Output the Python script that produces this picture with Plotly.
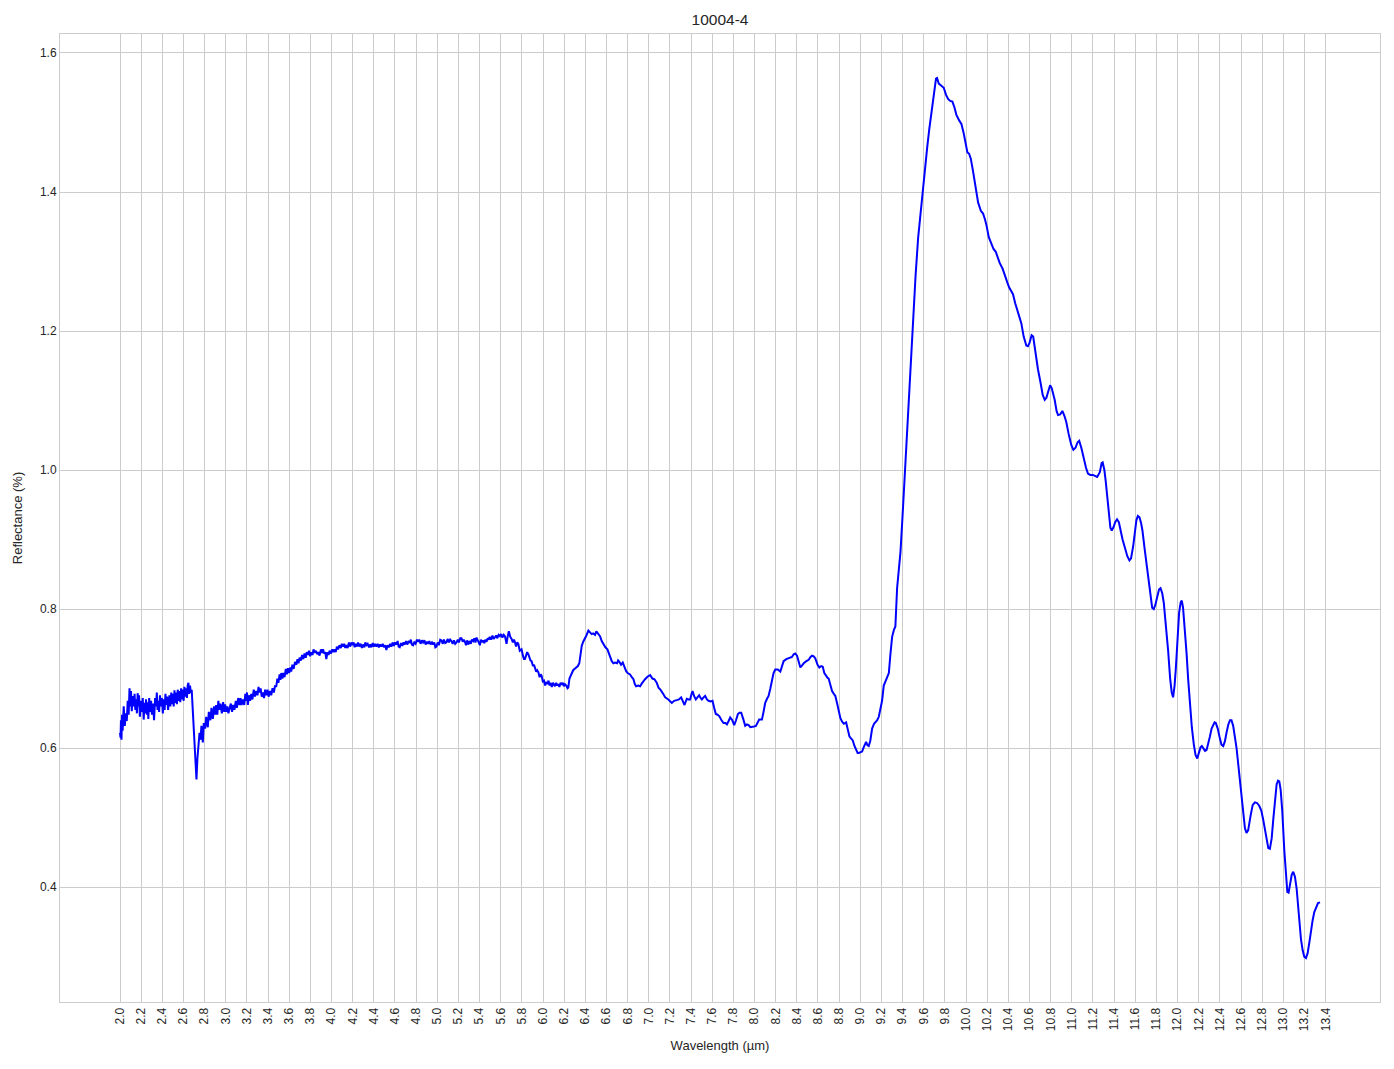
import plotly.graph_objects as go

TITLE = "10004-4"
X_LABEL = "Wavelength (µm)"
Y_LABEL = "Reflectance (%)"

x_tick_labels = ["2.0", "2.2", "2.4", "2.6", "2.8", "3.0", "3.2", "3.4", "3.6", "3.8",
                 "4.0", "4.2", "4.4", "4.6", "4.8", "5.0", "5.2", "5.4", "5.6", "5.8",
                 "6.0", "6.2", "6.4", "6.6", "6.8", "7.0", "7.2", "7.4", "7.6", "7.8",
                 "8.0", "8.2", "8.4", "8.6", "8.8", "9.0", "9.2", "9.4", "9.6", "9.8",
                 "10.0", "10.2", "10.4", "10.6", "10.8", "11.0", "11.2", "11.4", "11.6", "11.8",
                 "12.0", "12.2", "12.4", "12.6", "12.8", "13.0", "13.2", "13.4"]
y_tick_labels = ["0.4", "0.6", "0.8", "1.0", "1.2", "1.4", "1.6"]

# (wavelength, reflectance)
spectrum = [
    (2.000, 0.622), (2.005, 0.615), (2.009, 0.640), (2.014, 0.612), (2.019, 0.648), (2.025, 0.625),
    (2.035, 0.660), (2.045, 0.632), (2.057, 0.650), (2.064, 0.639), (2.073, 0.668), (2.082, 0.648),
    (2.090, 0.686), (2.098, 0.660), (2.104, 0.682), (2.111, 0.653), (2.120, 0.675), (2.130, 0.660),
    (2.138, 0.678), (2.145, 0.655), (2.152, 0.670), (2.160, 0.650), (2.167, 0.679), (2.173, 0.660),
    (2.180, 0.676), (2.188, 0.645), (2.199, 0.668), (2.208, 0.652), (2.215, 0.672), (2.224, 0.641),
    (2.232, 0.665), (2.240, 0.650), (2.246, 0.670), (2.255, 0.648), (2.262, 0.666), (2.268, 0.642),
    (2.276, 0.672), (2.285, 0.652), (2.294, 0.668), (2.302, 0.648), (2.313, 0.664), (2.322, 0.640),
    (2.332, 0.672), (2.341, 0.660), (2.348, 0.680), (2.355, 0.655), (2.362, 0.668), (2.370, 0.652),
    (2.378, 0.676), (2.388, 0.660), (2.396, 0.672), (2.405, 0.650), (2.414, 0.670), (2.422, 0.655),
    (2.430, 0.678), (2.436, 0.662), (2.445, 0.674), (2.455, 0.655), (2.467, 0.676), (2.476, 0.660),
    (2.485, 0.680), (2.492, 0.663), (2.499, 0.678), (2.508, 0.660), (2.515, 0.683), (2.521, 0.665),
    (2.530, 0.680), (2.538, 0.663), (2.546, 0.684), (2.555, 0.668), (2.563, 0.682), (2.570, 0.666),
    (2.578, 0.686), (2.586, 0.670), (2.595, 0.684), (2.602, 0.668), (2.609, 0.688), (2.617, 0.674),
    (2.625, 0.686), (2.633, 0.672), (2.640, 0.690), (2.647, 0.694), (2.655, 0.678), (2.662, 0.690),
    (2.670, 0.680), (2.678, 0.684), (2.688, 0.655), (2.704, 0.614), (2.715, 0.580), (2.723, 0.555),
    (2.732, 0.585), (2.742, 0.602), (2.752, 0.622), (2.761, 0.612), (2.770, 0.632), (2.783, 0.608),
    (2.792, 0.636), (2.805, 0.628), (2.815, 0.645), (2.830, 0.630), (2.840, 0.652), (2.855, 0.640),
    (2.865, 0.658), (2.878, 0.642), (2.890, 0.660), (2.900, 0.648), (2.909, 0.662), (2.920, 0.648),
    (2.930, 0.668), (2.940, 0.655), (2.950, 0.664), (2.963, 0.650), (2.975, 0.666), (2.985, 0.652),
    (2.994, 0.663),
    (3.005, 0.652), (3.015, 0.660), (3.025, 0.650), (3.035, 0.656), (3.048, 0.664), (3.060, 0.652),
    (3.070, 0.662), (3.082, 0.655), (3.095, 0.668), (3.105, 0.658), (3.118, 0.672), (3.130, 0.662),
    (3.140, 0.672), (3.150, 0.662), (3.162, 0.670), (3.175, 0.662), (3.185, 0.678), (3.193, 0.668),
    (3.201, 0.680), (3.209, 0.662), (3.220, 0.676), (3.230, 0.668), (3.241, 0.678), (3.252, 0.670),
    (3.265, 0.684), (3.276, 0.674), (3.288, 0.682), (3.300, 0.676), (3.310, 0.688), (3.320, 0.680),
    (3.330, 0.686), (3.340, 0.674), (3.351, 0.680), (3.362, 0.672), (3.372, 0.684), (3.383, 0.676),
    (3.395, 0.684), (3.405, 0.674), (3.418, 0.682), (3.430, 0.676), (3.442, 0.686), (3.455, 0.680),
    (3.466, 0.690), (3.477, 0.688), (3.488, 0.700), (3.498, 0.694), (3.509, 0.706), (3.517, 0.698),
    (3.525, 0.708), (3.535, 0.700), (3.545, 0.708), (3.556, 0.702), (3.568, 0.714), (3.578, 0.706),
    (3.588, 0.715), (3.600, 0.708), (3.610, 0.716), (3.619, 0.710), (3.630, 0.720), (3.642, 0.714),
    (3.655, 0.724), (3.667, 0.720), (3.678, 0.728), (3.688, 0.722), (3.698, 0.730), (3.710, 0.726),
    (3.722, 0.734), (3.733, 0.728), (3.745, 0.736), (3.756, 0.730), (3.766, 0.738), (3.777, 0.734),
    (3.788, 0.740), (3.798, 0.732), (3.809, 0.738), (3.820, 0.734), (3.830, 0.742), (3.840, 0.737),
    (3.852, 0.740), (3.865, 0.735), (3.876, 0.738), (3.887, 0.733), (3.900, 0.742), (3.910, 0.737),
    (3.920, 0.742), (3.930, 0.736), (3.941, 0.738), (3.951, 0.728), (3.962, 0.738), (3.972, 0.734),
    (3.982, 0.740), (3.995, 0.736), (4.008, 0.742), (4.018, 0.738), (4.029, 0.742), (4.040, 0.738),
    (4.051, 0.746), (4.062, 0.742), (4.075, 0.748), (4.088, 0.744), (4.098, 0.750), (4.109, 0.746),
    (4.120, 0.750), (4.130, 0.744), (4.140, 0.748), (4.152, 0.744), (4.165, 0.752), (4.176, 0.746),
    (4.188, 0.752), (4.198, 0.748), (4.209, 0.752), (4.219, 0.745), (4.230, 0.750), (4.240, 0.746),
    (4.251, 0.752), (4.262, 0.746), (4.275, 0.750), (4.287, 0.744), (4.298, 0.749), (4.310, 0.745),
    (4.320, 0.752), (4.330, 0.748), (4.342, 0.750), (4.355, 0.745), (4.366, 0.749), (4.377, 0.745),
    (4.390, 0.751), (4.400, 0.746), (4.412, 0.750), (4.424, 0.746), (4.436, 0.750), (4.448, 0.745),
    (4.460, 0.749), (4.472, 0.746), (4.484, 0.750), (4.495, 0.745), (4.508, 0.748), (4.519, 0.741),
    (4.530, 0.748), (4.542, 0.745), (4.555, 0.750), (4.566, 0.746), (4.578, 0.752), (4.590, 0.747),
    (4.602, 0.752),
    (4.614, 0.749), (4.625, 0.754), (4.635, 0.746), (4.645, 0.745), (4.658, 0.751), (4.670, 0.747),
    (4.681, 0.752), (4.692, 0.749), (4.705, 0.754), (4.716, 0.749), (4.728, 0.753), (4.740, 0.752),
    (4.750, 0.756), (4.760, 0.749), (4.771, 0.748), (4.783, 0.752), (4.795, 0.750), (4.808, 0.756),
    (4.819, 0.753), (4.830, 0.756), (4.842, 0.750), (4.855, 0.755), (4.866, 0.752), (4.878, 0.755),
    (4.890, 0.749), (4.902, 0.753), (4.914, 0.750), (4.925, 0.754), (4.937, 0.749), (4.950, 0.752),
    (4.961, 0.749), (4.972, 0.752), (4.982, 0.745), (4.992, 0.746), (5.004, 0.752), (5.015, 0.748),
    (5.028, 0.756), (5.040, 0.755), (5.052, 0.750), (5.063, 0.756), (5.075, 0.751), (5.087, 0.752),
    (5.099, 0.757), (5.110, 0.752), (5.122, 0.756), (5.134, 0.754), (5.146, 0.750), (5.158, 0.755),
    (5.170, 0.750), (5.182, 0.752), (5.194, 0.756), (5.205, 0.752), (5.217, 0.758), (5.229, 0.758),
    (5.241, 0.753), (5.251, 0.756), (5.261, 0.753), (5.272, 0.748), (5.282, 0.755), (5.292, 0.749),
    (5.305, 0.754), (5.317, 0.750), (5.328, 0.756), (5.340, 0.754), (5.350, 0.758), (5.361, 0.752),
    (5.371, 0.759), (5.382, 0.754), (5.392, 0.752), (5.403, 0.748), (5.413, 0.756), (5.424, 0.752),
    (5.434, 0.755), (5.445, 0.751), (5.456, 0.756), (5.466, 0.753), (5.477, 0.758), (5.488, 0.756),
    (5.497, 0.760), (5.510, 0.756), (5.522, 0.762), (5.534, 0.757), (5.545, 0.759), (5.557, 0.762),
    (5.568, 0.758), (5.580, 0.763), (5.592, 0.761), (5.604, 0.764), (5.616, 0.759), (5.628, 0.763),
    (5.640, 0.761), (5.648, 0.756), (5.655, 0.750), (5.665, 0.760), (5.677, 0.768), (5.690, 0.760),
    (5.703, 0.757), (5.715, 0.752), (5.725, 0.756), (5.734, 0.753), (5.745, 0.746), (5.755, 0.752),
    (5.766, 0.750), (5.780, 0.740), (5.797, 0.742), (5.810, 0.733), (5.820, 0.728), (5.829, 0.728),
    (5.840, 0.734), (5.850, 0.738), (5.861, 0.735), (5.872, 0.728), (5.882, 0.726), (5.892, 0.725),
    (5.905, 0.718), (5.915, 0.720), (5.923, 0.716), (5.935, 0.710), (5.945, 0.712), (5.956, 0.709),
    (5.968, 0.702), (5.978, 0.706), (5.987, 0.704), (5.998, 0.696), (6.009, 0.697), (6.020, 0.690),
    (6.030, 0.695), (6.041, 0.692), (6.052, 0.697), (6.062, 0.690), (6.072, 0.694), (6.083, 0.688),
    (6.095, 0.694), (6.105, 0.690), (6.113, 0.689), (6.125, 0.694), (6.135, 0.690), (6.145, 0.692),
    (6.155, 0.688), (6.166, 0.694), (6.176, 0.691), (6.187, 0.694), (6.197, 0.689), (6.207, 0.692),
    (6.220, 0.690), (6.232, 0.686), (6.239, 0.687), (6.250, 0.700), (6.262, 0.705), (6.271, 0.706),
    (6.285, 0.712), (6.300, 0.714), (6.318, 0.716), (6.330, 0.718), (6.343, 0.722), (6.355, 0.738),
    (6.366, 0.747), (6.380, 0.753), (6.397, 0.757), (6.410, 0.762), (6.429, 0.769), (6.445, 0.766),
    (6.460, 0.764), (6.475, 0.765), (6.492, 0.763), (6.504, 0.768), (6.514, 0.766), (6.525, 0.764),
    (6.539, 0.761), (6.555, 0.754), (6.571, 0.749), (6.590, 0.745), (6.609, 0.742), (6.625, 0.735),
    (6.640, 0.728), (6.650, 0.725), (6.665, 0.722), (6.681, 0.723), (6.700, 0.722), (6.710, 0.726),
    (6.722, 0.724), (6.738, 0.720), (6.754, 0.723), (6.770, 0.716), (6.785, 0.711), (6.800, 0.708),
    (6.823, 0.706), (6.840, 0.702), (6.855, 0.699), (6.868, 0.692), (6.880, 0.689), (6.900, 0.690),
    (6.918, 0.689), (6.935, 0.693), (6.950, 0.697), (6.965, 0.699),
    (6.990, 0.703), (7.013, 0.705), (7.035, 0.700), (7.054, 0.699), (7.075, 0.694), (7.092, 0.687),
    (7.110, 0.684), (7.123, 0.680), (7.140, 0.677), (7.155, 0.673), (7.185, 0.670), (7.218, 0.665),
    (7.240, 0.668), (7.265, 0.669), (7.285, 0.670), (7.306, 0.673), (7.322, 0.667), (7.338, 0.662),
    (7.350, 0.667), (7.360, 0.671), (7.375, 0.670), (7.391, 0.670), (7.405, 0.678), (7.414, 0.682),
    (7.428, 0.675), (7.445, 0.670), (7.460, 0.673), (7.476, 0.676), (7.490, 0.672), (7.502, 0.670),
    (7.518, 0.673), (7.533, 0.675), (7.550, 0.670), (7.565, 0.668), (7.585, 0.667), (7.603, 0.668),
    (7.618, 0.658), (7.634, 0.649), (7.650, 0.648), (7.666, 0.646), (7.688, 0.640), (7.707, 0.636),
    (7.725, 0.636), (7.739, 0.634), (7.755, 0.639), (7.770, 0.644), (7.790, 0.640), (7.808, 0.633),
    (7.825, 0.640), (7.843, 0.649), (7.858, 0.651), (7.874, 0.651), (7.893, 0.642), (7.912, 0.632),
    (7.928, 0.634), (7.944, 0.633), (7.960, 0.630), (7.975, 0.630), (7.995, 0.631), (8.013, 0.632),
    (8.030, 0.637), (8.044, 0.641), (8.058, 0.641), (8.070, 0.641), (8.085, 0.652), (8.101, 0.665),
    (8.118, 0.671), (8.133, 0.675), (8.150, 0.686), (8.165, 0.697), (8.180, 0.708), (8.196, 0.713),
    (8.220, 0.713), (8.244, 0.710), (8.260, 0.718), (8.275, 0.725), (8.300, 0.728), (8.322, 0.729),
    (8.340, 0.730), (8.354, 0.731), (8.370, 0.735), (8.385, 0.736), (8.402, 0.733), (8.418, 0.722),
    (8.433, 0.716), (8.450, 0.719), (8.465, 0.722), (8.490, 0.725), (8.512, 0.727), (8.530, 0.731),
    (8.544, 0.733), (8.560, 0.732), (8.575, 0.729), (8.595, 0.720), (8.613, 0.716), (8.630, 0.718),
    (8.645, 0.717), (8.660, 0.708), (8.676, 0.703), (8.690, 0.701), (8.701, 0.700), (8.718, 0.690),
    (8.733, 0.682), (8.750, 0.678), (8.764, 0.675), (8.780, 0.665), (8.796, 0.653), (8.812, 0.643),
    (8.828, 0.638), (8.845, 0.635), (8.866, 0.637), (8.882, 0.626), (8.897, 0.617), (8.912, 0.614),
    (8.929, 0.611), (8.945, 0.603), (8.960, 0.597), (8.975, 0.593), (8.986, 0.593), (9.000, 0.594),
    (9.017, 0.595), (9.035, 0.602), (9.048, 0.608), (9.055, 0.609), (9.068, 0.604), (9.080, 0.603),
    (9.095, 0.611), (9.112, 0.628), (9.130, 0.635), (9.143, 0.637), (9.160, 0.640), (9.175, 0.645),
    (9.190, 0.655), (9.206, 0.668), (9.222, 0.690), (9.238, 0.697), (9.255, 0.702), (9.270, 0.708),
    (9.285, 0.735), (9.301, 0.760), (9.318, 0.770), (9.332, 0.775), (9.348, 0.830), (9.364, 0.860),
    (9.380, 0.882), (9.400, 0.935), (9.420, 0.992), (9.440, 1.050), (9.461, 1.108), (9.480, 1.165),
    (9.499, 1.217), (9.523, 1.280), (9.547, 1.334), (9.570, 1.372), (9.594, 1.405), (9.612, 1.435),
    (9.632, 1.463), (9.652, 1.490), (9.673, 1.514), (9.690, 1.538), (9.704, 1.556), (9.716, 1.563),
    (9.726, 1.564), (9.742, 1.556), (9.758, 1.554), (9.775, 1.552), (9.789, 1.550), (9.810, 1.540),
    (9.830, 1.534), (9.850, 1.531), (9.871, 1.530), (9.890, 1.522), (9.909, 1.511), (9.935, 1.503),
    (9.956, 1.498), (9.977, 1.485), (9.997, 1.466), (10.013, 1.457), (10.029, 1.455), (10.045, 1.448),
    (10.066, 1.430), (10.090, 1.405), (10.114, 1.385), (10.140, 1.373), (10.161, 1.369), (10.180, 1.360),
    (10.192, 1.353), (10.215, 1.335), (10.240, 1.324), (10.260, 1.318), (10.281, 1.314), (10.300, 1.306),
    (10.318, 1.298), (10.345, 1.290), (10.366, 1.282), (10.390, 1.270), (10.407, 1.263), (10.430, 1.257),
    (10.444, 1.253), (10.465, 1.240), (10.482, 1.230), (10.505, 1.220), (10.523, 1.211), (10.545, 1.192),
    (10.570, 1.179), (10.585, 1.178), (10.600, 1.183), (10.620, 1.194), (10.635, 1.192), (10.659, 1.166),
    (10.680, 1.145), (10.703, 1.127), (10.725, 1.108), (10.744, 1.101), (10.760, 1.104), (10.775, 1.112),
    (10.795, 1.122), (10.810, 1.118), (10.838, 1.101), (10.856, 1.085), (10.870, 1.079), (10.890, 1.080),
    (10.911, 1.085), (10.930, 1.078), (10.948, 1.069), (10.970, 1.052), (10.995, 1.036), (11.015, 1.029),
    (11.035, 1.032), (11.055, 1.040), (11.070, 1.042), (11.090, 1.032), (11.112, 1.017), (11.135, 1.003),
    (11.153, 0.995), (11.175, 0.993), (11.200, 0.993), (11.220, 0.991), (11.240, 0.990), (11.265, 0.997),
    (11.282, 1.010), (11.292, 1.011), (11.308, 1.000), (11.320, 0.985), (11.335, 0.960), (11.350, 0.935),
    (11.365, 0.917), (11.378, 0.913), (11.395, 0.918), (11.410, 0.925), (11.428, 0.929), (11.445, 0.925),
    (11.460, 0.913), (11.480, 0.900), (11.501, 0.889), (11.525, 0.876), (11.545, 0.870), (11.560, 0.873),
    (11.580, 0.890), (11.598, 0.915), (11.611, 0.928), (11.625, 0.934), (11.640, 0.932), (11.655, 0.924),
    (11.668, 0.913), (11.690, 0.885), (11.706, 0.866), (11.725, 0.840), (11.744, 0.818), (11.760, 0.802),
    (11.775, 0.800), (11.790, 0.806), (11.807, 0.817), (11.825, 0.828), (11.839, 0.830), (11.855, 0.823),
    (11.870, 0.809), (11.890, 0.778), (11.911, 0.740), (11.930, 0.700), (11.945, 0.680), (11.958, 0.673),
    (11.972, 0.690), (11.984, 0.715), (12.000, 0.760), (12.015, 0.795), (12.030, 0.810), (12.040, 0.812),
    (12.052, 0.802), (12.065, 0.780), (12.085, 0.737), (12.100, 0.700), (12.116, 0.665), (12.135, 0.630),
    (12.154, 0.605), (12.170, 0.590), (12.186, 0.585), (12.200, 0.592), (12.217, 0.601), (12.230, 0.603),
    (12.242, 0.600), (12.260, 0.596), (12.274, 0.597), (12.290, 0.605), (12.305, 0.616), (12.322, 0.628),
    (12.337, 0.634), (12.350, 0.637), (12.362, 0.636), (12.380, 0.628), (12.400, 0.614), (12.415, 0.605),
    (12.432, 0.603), (12.448, 0.610), (12.463, 0.622), (12.480, 0.634), (12.496, 0.640), (12.510, 0.640),
    (12.526, 0.632), (12.545, 0.615), (12.558, 0.600), (12.575, 0.575), (12.589, 0.553), (12.605, 0.527),
    (12.621, 0.503), (12.637, 0.485), (12.652, 0.478), (12.668, 0.482), (12.690, 0.502), (12.710, 0.518),
    (12.731, 0.522), (12.752, 0.521), (12.772, 0.517), (12.792, 0.510), (12.810, 0.497), (12.830, 0.478),
    (12.842, 0.467), (12.858, 0.456), (12.873, 0.455), (12.890, 0.470), (12.905, 0.497), (12.922, 0.530),
    (12.937, 0.548), (12.950, 0.553), (12.962, 0.552), (12.975, 0.540), (12.990, 0.510), (13.009, 0.454),
    (13.025, 0.410), (13.038, 0.393), (13.050, 0.392), (13.063, 0.403), (13.080, 0.418), (13.094, 0.422),
    (13.110, 0.415), (13.126, 0.398), (13.140, 0.370), (13.151, 0.350), (13.167, 0.325), (13.183, 0.309),
    (13.198, 0.300), (13.214, 0.298), (13.230, 0.305), (13.246, 0.320), (13.262, 0.338), (13.277, 0.352),
    (13.293, 0.364), (13.309, 0.371), (13.328, 0.377), (13.347, 0.378),
]
wavelength = [p[0] for p in spectrum]
reflectance = [p[1] for p in spectrum]

TEXT = "#262626"
GRID = "#cccccc"
FONT = "Liberation Sans, Arial, sans-serif"

# the page adds an 8px body margin; size the figure so the plot lands where the reference has it
FIG_W, FIG_H = 1386, 1061

fig = go.Figure()
fig.add_trace(go.Scatter(
    x=wavelength, y=reflectance, mode="lines",
    line=dict(color="#0000ff", width=2), showlegend=False, hoverinfo="skip",
))

xmin, xmax = min(wavelength), max(wavelength)
ymin, ymax = min(reflectance), max(reflectance)
xpad = 0.05 * (xmax - xmin)
ypad = 0.05 * (ymax - ymin)

fig.update_layout(
    width=FIG_W, height=FIG_H,
    margin=dict(l=52, r=14, t=26, b=67),
    paper_bgcolor="white", plot_bgcolor="white",
    font=dict(family=FONT, color=TEXT, size=12),
    title=dict(text=TITLE, x=0.5, xref="paper", xanchor="center",
               y=1 - 12 / FIG_H, yanchor="middle",
               font=dict(size=15.5, color=TEXT, family=FONT)),
    xaxis=dict(
        range=[xmin - xpad, xmax + xpad], automargin=False,
        tickmode="array", tickvals=[float(t) for t in x_tick_labels], ticktext=x_tick_labels,
        tickangle=-90, ticks="", ticklen=0,
        showgrid=True, gridcolor=GRID, gridwidth=1,
        showline=True, linecolor=GRID, linewidth=1, mirror=True,
        zeroline=False,
        tickfont=dict(size=12, color=TEXT),
        title=dict(text=X_LABEL, font=dict(size=13, color=TEXT), standoff=10),
    ),
    yaxis=dict(
        range=[ymin - ypad, ymax + ypad], automargin=False,
        tickmode="array", tickvals=[float(t) for t in y_tick_labels], ticktext=y_tick_labels,
        ticks="", ticklen=0,
        showgrid=True, gridcolor=GRID, gridwidth=1,
        showline=True, linecolor=GRID, linewidth=1, mirror=True,
        zeroline=False,
        tickfont=dict(size=12, color=TEXT),
        title=dict(text=Y_LABEL, font=dict(size=13, color=TEXT), standoff=14),
    ),
)

fig.write_html("out.html")
